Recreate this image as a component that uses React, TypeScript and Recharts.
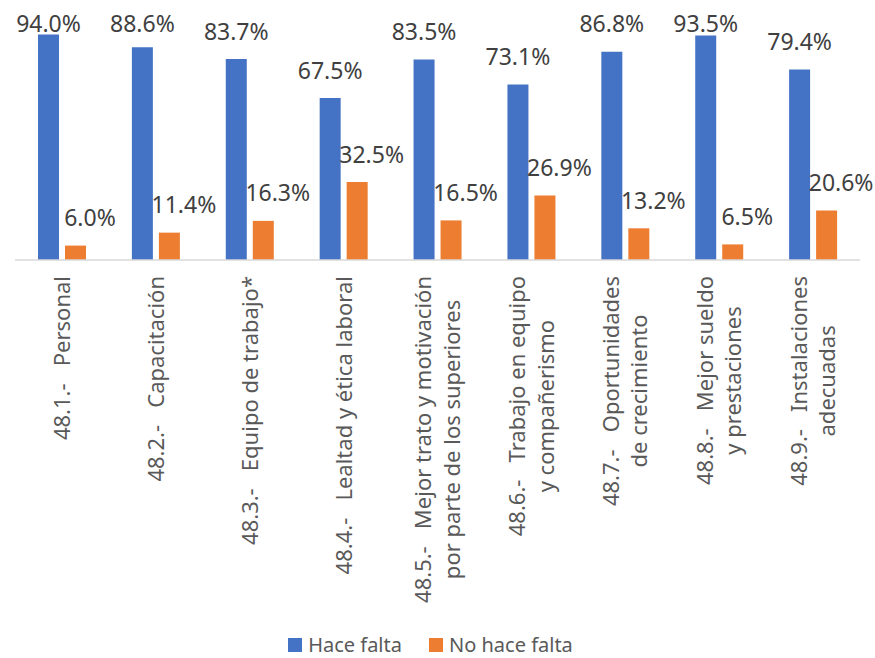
import React from "react";
import { BarChart, Bar, XAxis, YAxis, Legend, LabelList } from "recharts";

const categories: string[] = [
  "48.1.-   Personal",
  "48.2.-   Capacitación",
  "48.3.-   Equipo de trabajo*",
  "48.4.-   Lealtad y ética laboral",
  "48.5.-   Mejor trato y motivación\npor parte de los superiores",
  "48.6.-   Trabajo en equipo\ny compañerismo",
  "48.7.-   Oportunidades\nde crecimiento",
  "48.8.-   Mejor sueldo\ny prestaciones",
  "48.9.-   Instalaciones\nadecuadas",
];
const haceFalta: number[] = [94.0, 88.6, 83.7, 67.5, 83.5, 73.1, 86.8, 93.5, 79.4];
const noHaceFalta: number[] = [6.0, 11.4, 16.3, 32.5, 16.5, 26.9, 13.2, 6.5, 20.6];

const data = categories.map((c, i) => ({ cat: c, hace: haceFalta[i], nohace: noHaceFalta[i] }));

const FONT = "'Noto Sans', sans-serif";
const BLUE = "#4472C4";
const ORANGE = "#ED7D31";

let ctx: CanvasRenderingContext2D | null = null;
function measure(text: string, size: number): number {
  if (!ctx) ctx = document.createElement("canvas").getContext("2d");
  if (!ctx) return text.length * size * 0.5;
  ctx.font = `${size}px 'Noto Sans'`;
  return ctx.measureText(text).width;
}

const TickLabel = (props: any) => {
  const { x, y, payload } = props;
  const lines: string[] = String(payload.value).split("\n");
  const size = 22;
  const lh = 28.6;
  const widths = lines.map((l) => measure(l, size));
  const maxW = Math.max(...widths);
  const n = lines.length;
  return (
    <g transform={`translate(${x},${y + 16}) rotate(-90)`}>
      {lines.map((l, i) => (
        <text
          key={i}
          x={-maxW / 2}
          y={7.9 + (i - (n - 1) / 2) * lh}
          textAnchor="middle"
          fontSize={size}
          fontFamily={FONT}
          fill="#595959"
          style={{ whiteSpace: "pre" }}
        >
          {l}
        </text>
      ))}
    </g>
  );
};

const makeLabel = (dx: number) => (props: any) => {
  const { x, y, width, value } = props;
  const baseline = Math.max(Number(y) - 19.5, 32);
  return (
    <text
      x={Number(x) + Number(width) / 2 + dx}
      y={baseline}
      textAnchor="middle"
      fontSize={23}
      fontFamily={FONT}
      fill="#404040"
    >
      {`${Number(value).toFixed(1)}%`}
    </text>
  );
};

const LegendContent = (props: any) => {
  const { payload } = props;
  return (
    <div
      style={{
        height: 30,
        display: "flex",
        justifyContent: "center",
        alignItems: "flex-end",
        paddingRight: 14,
        fontFamily: FONT,
      }}
    >
      {(payload || []).map((p: any, i: number) => (
        <div key={i} style={{ display: "flex", alignItems: "center", marginLeft: i ? 27 : 0, height: 26 }}>
          <div style={{ width: 14, height: 14, background: p.color, marginRight: 6 }} />
          <span style={{ fontSize: 20, color: "#595959", lineHeight: "26px" }}>{p.value}</span>
        </div>
      ))}
    </div>
  );
};

export default function App() {
  return (
    <div style={{ position: "absolute", left: 0, top: 0, width: 875, height: 658, background: "#fff" }}>
      <BarChart
        width={875}
        height={658}
        data={data}
        margin={{ top: 20, right: 15, left: 15, bottom: 0 }}
        barSize={21}
        barGap={6}
      >
        <XAxis
          dataKey="cat"
          interval={0}
          height={368}
          tickLine={false}
          tickSize={0}
          tickMargin={0}
          axisLine={{ stroke: "#D9D9D9", strokeWidth: 1.5 }}
          tick={<TickLabel />}
        />
        <YAxis hide domain={[0, 100]} />
        <Legend verticalAlign="bottom" content={<LegendContent />} />
        <Bar dataKey="hace" name="Hace falta" fill={BLUE} isAnimationActive={false}>
          <LabelList dataKey="hace" content={makeLabel(0)} />
        </Bar>
        <Bar dataKey="nohace" name="No hace falta" fill={ORANGE} isAnimationActive={false}>
          <LabelList dataKey="nohace" content={makeLabel(14.5)} />
        </Bar>
      </BarChart>
    </div>
  );
}
